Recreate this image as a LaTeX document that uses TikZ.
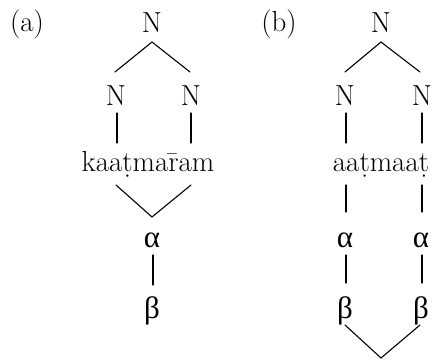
\documentclass[tikz,border=0pt]{standalone}
\usepackage{fontspec}
\newfontfamily\grkfont{Liberation Serif}
\usetikzlibrary{calc}
\begin{document}
\begin{tikzpicture}[x=1pt,y=-1pt,
  lbl/.style={anchor=base,inner sep=0pt,outer sep=0pt,font=\fontsize{29}{32}\selectfont},
  grk/.style={anchor=base,inner sep=0pt,outer sep=0pt,font=\grkfont\fontsize{31}{34}\selectfont},
  link/.style={line width=1.1pt,line cap=round,line join=miter}]
\useasboundingbox (0,0) rectangle (432,360);
% ---------- (a) ----------
\node[lbl] (la) at (27,31) {(a)};
\node[lbl] (aT) at (152,32) {N};
\node[lbl] (aL) at (116,105) {N};
\node[lbl] (aR) at (191,105) {N};
\node[lbl] (aW) at (148,171) {kaa\d{t}ma\={r}am};
\node[grk] (aA) at (152,247) {α};
\node[grk] (aB) at (152,318) {β};
\draw[link] ($(aL.base)+(-1,-33)$) -- ($(aT.base)+(0,10)$) -- ($(aR.base)+(-1,-33)$);
\draw[link] ($(aL.base)+(1,8)$) -- ($(aL.base)+(1,38)$);
\draw[link] ($(aR.base)+(0,8)$) -- ($(aR.base)+(0,38)$);
\draw[link] ($(aW.base)+(-32,14)$) -- ($(aA.base)+(0,-30)$) -- ($(aW.base)+(43,14)$);
\draw[link] ($(aA.base)+(1,8)$) -- ($(aA.base)+(1,38)$);
% ---------- (b) ----------
\node[lbl] (lb) at (279,31) {(b)};
\node[lbl] (bT) at (381,32) {N};
\node[lbl] (bL) at (345,105) {N};
\node[lbl] (bR) at (422,105) {N};
\node[lbl] (bW) at (381,171) {aa\d{t}maa\d{t}};
\node[grk] (bAl) at (345,247) {α};
\node[grk] (bAr) at (421,247) {α};
\node[grk] (bBl) at (345,318) {β};
\node[grk] (bBr) at (421,318) {β};
\coordinate (bV) at (381,358);
\draw[link] ($(bL.base)+(0,-33)$) -- ($(bT.base)+(0,10)$) -- ($(bR.base)+(-2,-33)$);
\draw[link] ($(bL.base)+(1,8)$) -- ($(bL.base)+(1,38)$);
\draw[link] ($(bR.base)+(0,8)$) -- ($(bR.base)+(0,38)$);
\draw[link] ($(bAl.base)+(1,-62)$) -- ($(bAl.base)+(1,-35)$);
\draw[link] ($(bAr.base)+(1,-62)$) -- ($(bAr.base)+(1,-35)$);
\draw[link] ($(bAl.base)+(1,8)$) -- ($(bAl.base)+(1,36)$);
\draw[link] ($(bAr.base)+(1,8)$) -- ($(bAr.base)+(1,36)$);
\draw[link] ($(bBl.base)+(0,7)$) -- (bV) -- ($(bBr.base)+(-1,7)$);
\end{tikzpicture}
\end{document}
